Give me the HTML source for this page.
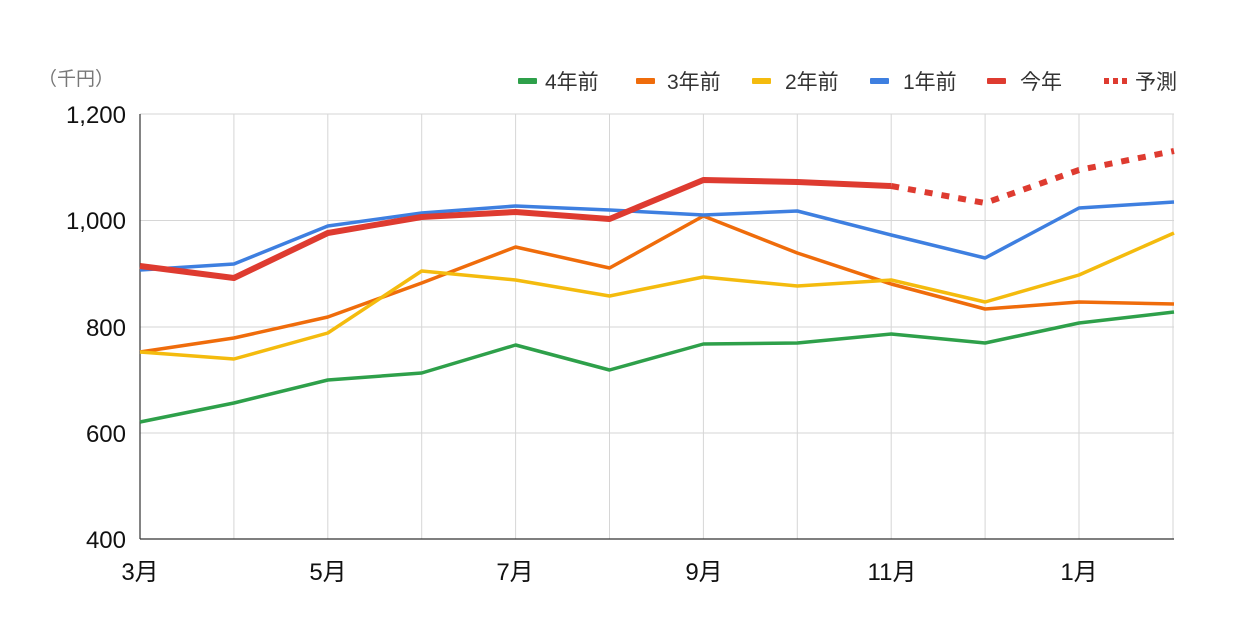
<!DOCTYPE html>
<html><head><meta charset="utf-8"><style>
html,body{margin:0;padding:0;background:#fff;}
svg{display:block;font-family:"Liberation Sans","Noto Sans CJK JP",sans-serif;}
</style></head><body>
<svg width="1240" height="635" viewBox="0 0 1240 635">
<rect width="1240" height="635" fill="#fff"/>
<g stroke="#d6d6d6" stroke-width="1">
<line x1="140" y1="114" x2="1174" y2="114"/>
<line x1="140" y1="220.5" x2="1174" y2="220.5"/>
<line x1="140" y1="327" x2="1174" y2="327"/>
<line x1="140" y1="433" x2="1174" y2="433"/>
<line x1="233.9" y1="114" x2="233.9" y2="539"/>
<line x1="327.8" y1="114" x2="327.8" y2="539"/>
<line x1="421.7" y1="114" x2="421.7" y2="539"/>
<line x1="515.6" y1="114" x2="515.6" y2="539"/>
<line x1="609.5" y1="114" x2="609.5" y2="539"/>
<line x1="703.4" y1="114" x2="703.4" y2="539"/>
<line x1="797.3" y1="114" x2="797.3" y2="539"/>
<line x1="891.2" y1="114" x2="891.2" y2="539"/>
<line x1="985.1" y1="114" x2="985.1" y2="539"/>
<line x1="1079" y1="114" x2="1079" y2="539"/>
<line x1="1173" y1="114" x2="1173" y2="539"/>
</g>
<line x1="140" y1="114" x2="140" y2="539" stroke="#333" stroke-width="1.2"/>
<line x1="140" y1="539" x2="1174" y2="539" stroke="#333" stroke-width="1.2"/>
<g font-size="24" fill="#111" text-anchor="end">
<text x="126" y="123">1,200</text>
<text x="126" y="229">1,000</text>
<text x="126" y="336">800</text>
<text x="126" y="442">600</text>
<text x="126" y="548">400</text>
</g>
<g font-size="24" fill="#111" text-anchor="middle">
<text x="140" y="580">3月</text>
<text x="328" y="580">5月</text>
<text x="515" y="580">7月</text>
<text x="704" y="580">9月</text>
<text x="892" y="580">11月</text>
<text x="1079" y="580">1月</text>
</g>
<text x="38" y="85" font-size="19" fill="#777">（千円）</text>
<g font-size="21" fill="#333">
<rect x="518" y="78" width="19" height="6" fill="#2ea04a" rx="1"/><text x="545" y="89">4年前</text>
<rect x="636" y="78" width="19" height="6" fill="#ef6c0b" rx="1"/><text x="667" y="89">3年前</text>
<rect x="752" y="78" width="19" height="6" fill="#f4bb0e" rx="1"/><text x="785" y="89">2年前</text>
<rect x="870" y="78" width="19" height="6" fill="#3e7fe0" rx="1"/><text x="903" y="89">1年前</text>
<rect x="987" y="78" width="19" height="6" fill="#de3b30" rx="1"/><text x="1020" y="89">今年</text>
<rect x="1104" y="78" width="5" height="6" fill="#de3b30"/><rect x="1113" y="78" width="5" height="6" fill="#de3b30"/><rect x="1122" y="78" width="5" height="6" fill="#de3b30"/><text x="1135" y="89">予測</text>
</g>
<g fill="none" stroke-linejoin="round" stroke-width="3.5">
<polyline stroke="#2ea04a" points="140,422 233.9,403 327.8,380 421.7,373 515.6,345 609.5,370 703.4,344 797.3,343 891.2,334 985.1,343 1079,323 1174,312"/>
<polyline stroke="#ef6c0b" points="140,352 233.9,338 327.8,317 421.7,283 515.6,247 609.5,268 703.4,216 797.3,253 891.2,284 985.1,309 1079,302 1174,304"/>
<polyline stroke="#f4bb0e" points="140,352 233.9,359 327.8,333 421.7,271 515.6,280 609.5,296 703.4,277 797.3,286 891.2,280 985.1,302 1079,275 1174,233"/>
<polyline stroke="#3e7fe0" points="140,270 233.9,264 327.8,226 421.7,213 515.6,206 609.5,210 703.4,215 797.3,211 891.2,235 985.1,258 1079,208 1174,202"/>
<polyline stroke="#de3b30" stroke-width="6" points="140,266 233.9,278 327.8,233 421.7,217 515.6,212 609.5,219 703.4,180 797.3,182 891.2,186"/>
<polyline stroke="#de3b30" stroke-width="6" stroke-dasharray="8,9" points="891.2,186 985.1,203 1079,170 1174,151"/>
</g>
</svg>
</body></html>
